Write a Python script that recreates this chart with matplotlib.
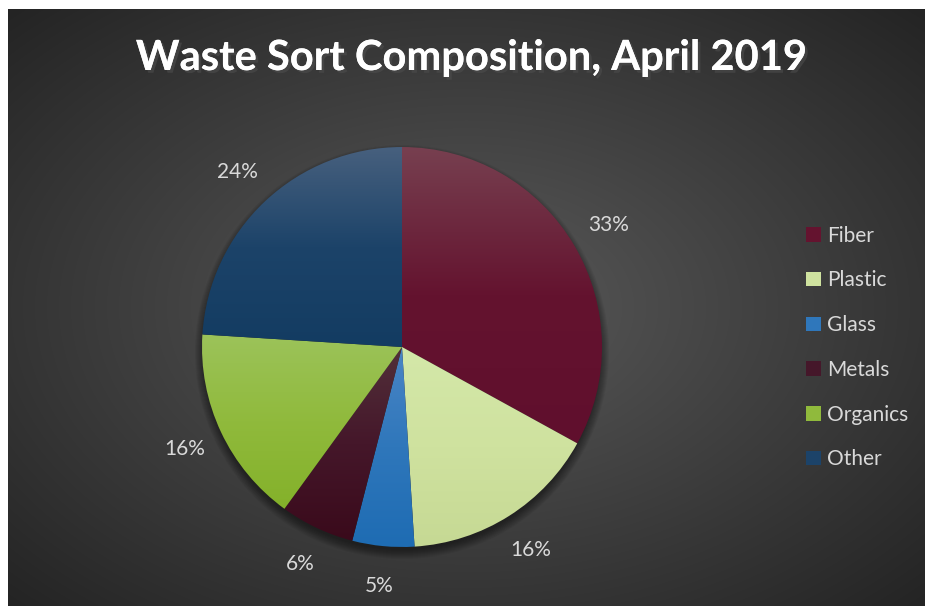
import numpy as np
import matplotlib
matplotlib.use("Agg")
import matplotlib.pyplot as plt
import matplotlib.patheffects as pe
from matplotlib.colors import to_rgb
from matplotlib.patches import Patch, Circle

# Dados da composicao (percentagens)
categorias = ["Fiber", "Plastic", "Glass", "Metals", "Organics", "Other"]
percentagens = [33, 16, 5, 6, 16, 24]

# Cores de cada fatia: topo, meio, base (gradiente vertical)
cores_topo = ["#774050", "#d4e8a9", "#4a85c5", "#52303a", "#9cc35a", "#47607e"]
cores_meio = ["#64132f", "#cfe29f", "#2f77bb", "#45172a", "#90ba3c", "#1c4369"]
cores_base = ["#600f2d", "#c6d994", "#1e6cb3", "#3a0a1b", "#84b12a", "#133c62"]

plt.rcParams["font.family"] = ["Lato", "DejaVu Sans"]

W, H = 925, 606
fig = plt.figure(figsize=(W / 100, H / 100), dpi=100, facecolor="white")

# Fundo cinzento com gradiente radial
bg = fig.add_axes([8 / W, 0, (W - 8) / W, (H - 9) / H])
bg.set_axis_off()
yy, xx = np.mgrid[-1:1:300j, -1:1:460j]
d = np.clip(np.sqrt(xx ** 2 + yy ** 2) / np.sqrt(2), 0, 1)
c0 = np.array(to_rgb("#5a5a5a"))
c1 = np.array(to_rgb("#242424"))
img = c0[None, None, :] * (1 - d[..., None]) + c1[None, None, :] * d[..., None]
bg.imshow(img, aspect="auto", extent=[0, 1, 0, 1], interpolation="bilinear")
bg.set_xlim(0, 1)
bg.set_ylim(0, 1)

# Eixo do grafico circular
cx, cy, r_px = 402, 347, 200
lim = 1.25
size = r_px * lim
ax = fig.add_axes([(cx - size) / W, (H - cy - size) / H, 2 * size / W, 2 * size / H])
ax.set_xlim(-lim, lim)
ax.set_ylim(-lim, lim)
ax.set_axis_off()

# Sombra difusa por baixo do circulo
for k in range(10):
    ax.add_patch(Circle((0, -0.025), 0.99 + 0.005 * k, color="black",
                        alpha=0.05, lw=0, zorder=0))

wedges, texts, autotexts = ax.pie(percentagens, startangle=90, counterclock=False,
                                  autopct="%1.0f%%", pctdistance=1.2,
                                  wedgeprops=dict(linewidth=0),
                                  textprops=dict(color="#d9d9d9", fontsize=15))

# Preencher cada fatia com o seu gradiente
for w, ct, cm, cb in zip(wedges, cores_topo, cores_meio, cores_base):
    ext = w.get_path().get_extents()
    t = np.linspace(0, 1, 200)[:, None]
    top, mid, bot = (np.array(to_rgb(c)) for c in (ct, cm, cb))
    grad = np.where(t < 0.5,
                    top * (1 - t / 0.5) + mid * (t / 0.5),
                    mid * (1 - (t - 0.5) / 0.5) + bot * ((t - 0.5) / 0.5))
    grad = grad[:, None, :]
    im = ax.imshow(grad, aspect="auto", extent=[ext.x0, ext.x1, ext.y0, ext.y1],
                   origin="upper", interpolation="bilinear", zorder=2)
    im.set_clip_path(w)
    w.set_facecolor("none")
ax.set_xlim(-lim, lim)
ax.set_ylim(-lim, lim)

# Titulo com sombra
fig.text(471 / W, 1 - 70 / H, "Waste Sort Composition, April 2019",
         ha="center", va="baseline", fontsize=30, fontweight="bold", color="white",
         path_effects=[pe.withSimplePatchShadow(offset=(2, -2), alpha=0.6),
                       pe.Normal()])

# Legenda
handles = [Patch(facecolor=c, edgecolor="none") for c in cores_meio]
leg = fig.legend(handles, categorias, loc="center left",
                 bbox_to_anchor=(806 / W, 1 - 347.5 / H), frameon=False,
                 fontsize=15, labelcolor="#d9d9d9", handlelength=0.7,
                 handleheight=0.7, handletextpad=0.3, labelspacing=1.19,
                 borderpad=0, borderaxespad=0)

plt.savefig("out.png", dpi=100, facecolor="white")
